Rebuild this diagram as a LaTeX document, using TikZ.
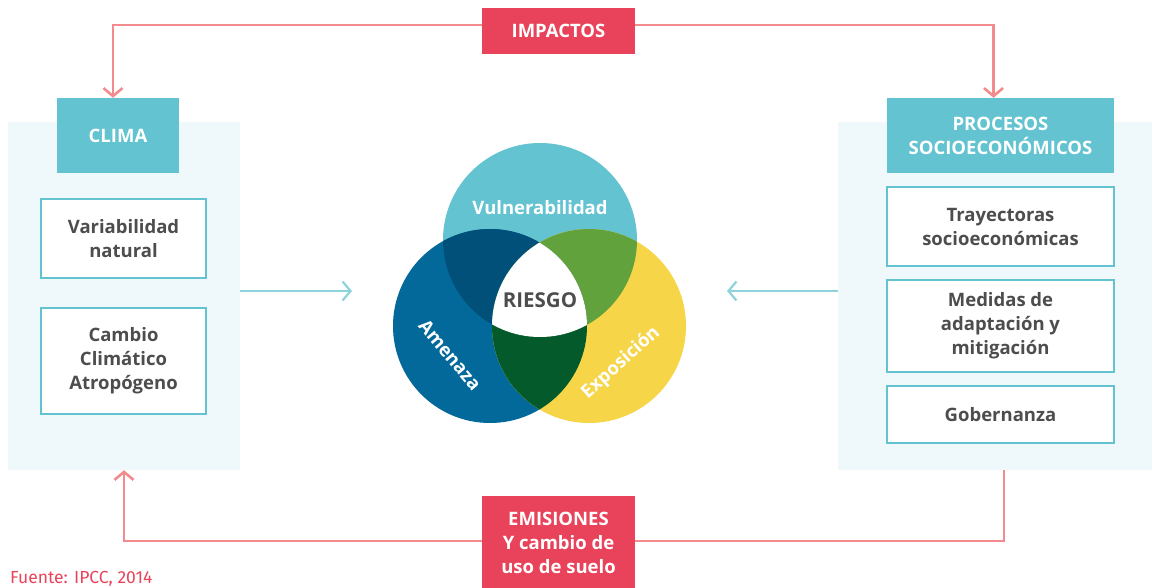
\documentclass[tikz,border=0pt]{standalone}
\usepackage{fontspec}
\setmainfont{Open Sans}
\newfontfamily\fuentefont{Fira Sans}
\usetikzlibrary{arrows.meta,positioning}

\definecolor{cyanhead}{HTML}{63C3D1}
\definecolor{panelbg}{HTML}{EFF8FA}
\definecolor{redbox}{HTML}{E8435A}
\definecolor{redline}{HTML}{F28B8E}
\definecolor{tealline}{HTML}{8ED3DC}
\definecolor{textgray}{HTML}{4D4D4D}
\definecolor{amenaza}{HTML}{03699A}
\definecolor{exposicion}{HTML}{F6D648}
\definecolor{vulamen}{HTML}{01507A}
\definecolor{vulexpo}{HTML}{62A23D}
\definecolor{amenexpo}{HTML}{045A2A}

\newcommand{\boxfont}{\bfseries\fontsize{18.5}{24}\selectfont}

\tikzset{
  panel/.style={fill=panelbg, inner sep=0pt},
  headbox/.style={fill=cyanhead, text=white, font=\boxfont, align=center, inner sep=0pt},
  itembox/.style={draw=cyanhead, line width=1.2pt, fill=white, text=textgray, font=\boxfont, align=center, inner sep=0pt},
  redlabel/.style={fill=redbox, text=white, font=\boxfont, align=center, inner sep=0pt},
  redarrow/.style={draw=redline, line width=2.6pt, -{Straight Barb[length=8pt,width=19pt]}},
  tealarrow/.style={draw=tealline, line width=2.2pt, -{Straight Barb[length=8pt,width=19pt]}},
  vennlabel/.style={text=white, font=\boxfont}
}

\begin{document}
\begin{tikzpicture}[x=1pt, y=-1pt]
    \useasboundingbox (0,0) rectangle (1152,588);

    % Panels
    \node[panel, minimum width=232pt, minimum height=348pt] (leftpanel) at (124,296) {};
    \node[panel, minimum width=314pt, minimum height=348pt] (rightpanel) at (995,296) {};

    % Left column
    \node[headbox, minimum width=122pt, minimum height=75pt] (clima) at (118,135.5) {CLIMA};
    \node[itembox, minimum width=165pt, minimum height=79pt] (variab) at (123.5,238.5) {Variabilidad\\natural};
    \node[itembox, minimum width=165pt, minimum height=106pt] (cambio) at (123.5,361) {Cambio\\Climático\\Atropógeno};

    % Right column
    \node[headbox, minimum width=227pt, minimum height=75pt] (procesos) at (1000.5,135.5) {PROCESOS\\SOCIOECONÓMICOS};
    \node[itembox, minimum width=227pt, minimum height=79pt] (trayect) at (1000.5,226.5) {Trayectoras\\socioeconómicas};
    \node[itembox, minimum width=227pt, minimum height=92pt] (medidas) at (1000.5,326) {Medidas de\\adaptación y\\mitigación};
    \node[itembox, minimum width=227pt, minimum height=57pt] (gobern) at (1000.5,414.5) {Gobernanza};

    % Top and bottom labels
    \node[redlabel, minimum width=153pt, minimum height=46pt] (impactos) at (558.5,31) {IMPACTOS};
    \node[redlabel, minimum width=153pt, minimum height=94pt] (emisiones) at (558.5,543)
        {EMISIONES\\Y cambio de\\uso de suelo};

    % Venn diagram
    \def\vr{97pt}
    \coordinate (vtop) at (540,240);
    \coordinate (vleft) at (490,326);
    \coordinate (vright) at (589,326);
    \fill[cyanhead] (vtop) circle (\vr);
    \fill[amenaza] (vleft) circle (\vr);
    \fill[exposicion] (vright) circle (\vr);
    \begin{scope}
        \clip (vtop) circle (\vr);
        \fill[vulamen] (vleft) circle (\vr);
        \fill[vulexpo] (vright) circle (\vr);
    \end{scope}
    \begin{scope}
        \clip (vleft) circle (\vr);
        \fill[amenexpo] (vright) circle (\vr);
    \end{scope}
    \begin{scope}
        \clip (vtop) circle (\vr);
        \clip (vleft) circle (\vr);
        \fill[white] (vright) circle (\vr);
    \end{scope}

    \node[vennlabel] (vulnlabel) at (540,208) {Vulnerabilidad};
    \node[vennlabel, rotate=-50] (amenlabel) at (450,355) {Amenaza};
    \node[vennlabel, rotate=42] (expolabel) at (621,363) {Exposición};
    \node[text=textgray, font=\bfseries\fontsize{20.5}{24}\selectfont] (riesgo) at (540,300) {RIESGO};

    % Connectors
    \coordinate (vennL) at (352,291);
    \coordinate (vennR) at (727,291);
    \draw[tealarrow] (leftpanel.east |- vennL) -- (vennL);
    \draw[tealarrow] (rightpanel.west |- vennR) -- (vennR);
    \draw[redarrow] ([yshift=6pt]impactos.west) -| ([xshift=-5pt]clima.north);
    \draw[redarrow] ([yshift=6pt]impactos.east) -| ([xshift=-7pt]procesos.north);
    \draw[redarrow] ([yshift=2pt]emisiones.west) -| (leftpanel.south);
    \draw[draw=redline, line width=2.6pt] ([xshift=9pt]rightpanel.south) |- ([yshift=2pt]emisiones.east);

    % Source
    \node[anchor=base west, inner sep=0pt, text=redbox, font=\fuentefont\fontsize{17.5}{18}\selectfont] (fuente) at (10,583) {Fuente: IPCC, 2014};
\end{tikzpicture}
\end{document}
